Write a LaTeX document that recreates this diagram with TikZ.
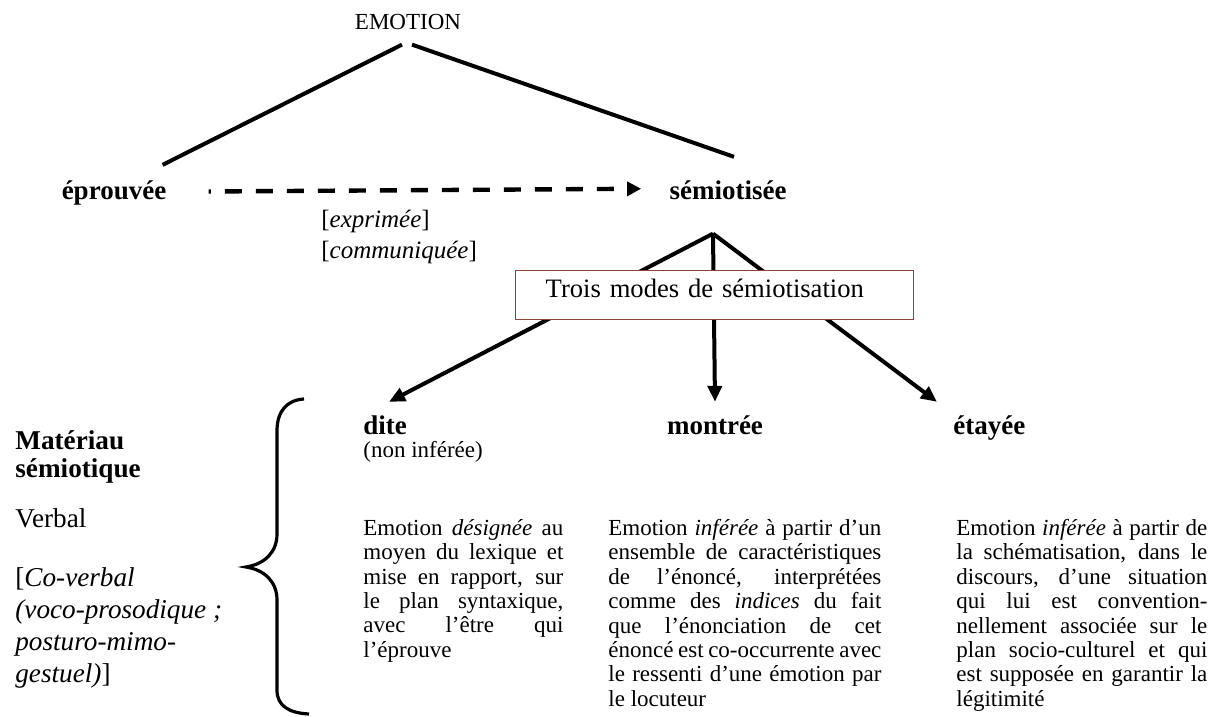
\documentclass[tikz,border=0pt]{standalone}
\usepackage{fontspec}
\setmainfont{Liberation Serif}
\usetikzlibrary{arrows.meta}
\definecolor{boxline}{RGB}{140,70,55}
\tikzset{
    lbl/.style={inner sep=0pt, font=\fontsize{11.5}{12}\selectfont},
    head/.style={inner sep=0pt, font=\fontsize{13.5}{16}\selectfont\bfseries},
    para/.style={inner sep=0pt, anchor=north west, align=justify, font=\fontsize{11.5}{12.2}\selectfont},
    side/.style={inner sep=0pt, anchor=north west, align=left, font=\fontsize{13.6}{16}\selectfont},
    tree/.style={line width=2pt},
    down/.style={line width=2pt, -{Triangle[length=8pt,width=7pt]}},
}
\hyphenpenalty=10000 \exhyphenpenalty=10000 \tolerance=10000 \hbadness=10000

\begin{document}
\begin{tikzpicture}[x=0.5pt, y=-0.5pt]
    \useasboundingbox (0,0) rectangle (1223,717);

    \node[lbl, anchor=base] (emotion) at (408,30) {EMOTION};
    \node[head, anchor=base] (eprouvee) at (114,200) {éprouvée};
    \node[head, anchor=base] (semiotisee) at (728,200) {sémiotisée};

    \draw[tree] ([shift={(-6,14)}]emotion.south) -- ([shift={(-4,-16)}]eprouvee.north east);
    \draw[tree] ([shift={(4,14)}]emotion.south) -- ([shift={(6,-24)}]semiotisee.north);

    \draw[line width=2.2pt, dash pattern=on 8.5pt off 7pt, dash phase=7.4pt, -{Triangle[length=7pt,width=7pt]}]
        ([shift={(42,-2)}]eprouvee.east) -- ([shift={(-28,-2)}]semiotisee.west);
    \node[lbl, anchor=north west, align=left, font=\fontsize{12.5}{15.5}\selectfont] (expr) at (321,210)
        {[\textit{exprimée}]\\{}[\textit{communiquée}]};

    \node[head, anchor=base west] (dite) at (363,435) {dite};
    \node[lbl, anchor=base west] (noninf) at (363,458) {(non inférée)};
    \node[head, anchor=base] (montree) at (715,435) {montrée};
    \node[head, anchor=base west] (etayee) at (953,435) {étayée};

    \coordinate (fork) at ([shift={(-15,33)}]semiotisee.south);
    \draw[down] (fork) -- ([shift={(26,-14)}]dite.north west);
    \draw[down] (fork) -- ([shift={(0,-14)}]montree.north);
    \draw[down] (fork) -- ([shift={(-16,-14)}]etayee.north west);

    \node[draw=boxline, line width=0.7pt, fill=white, anchor=north west, inner xsep=15pt, inner ysep=0pt,
        text width=169pt, text height=13.5pt, text depth=11pt, font=\fontsize{13.3}{16}\selectfont]
        (trois) at (515,270) {Trois modes de sémiotisation};

    \node[para, text width=100pt] (ditetxt) at (363,519)
        {Emotion \textit{désignée} au\linebreak moyen du lexique et\linebreak mise en rapport, sur\linebreak
        le plan syntaxique,\linebreak avec l’être qui\linebreak l’éprouve};
    \node[para, text width=136.5pt] (montreetxt) at (608,519)
        {Emotion \textit{inférée} à partir d’un\linebreak ensemble de caractéristiques\linebreak
        de l’énoncé, interprétées\linebreak comme des \textit{indices} du fait\linebreak
        que l’énonciation de cet\linebreak énoncé est co-occurrente avec\linebreak
        le ressenti d’une émotion par\linebreak le locuteur};
    \node[para, text width=125.5pt] (etayeetxt) at (956,519)
        {Emotion \textit{inférée} à partir de\linebreak la schématisation, dans le\linebreak
        discours, d’une situation\linebreak qui lui est convention-\linebreak
        nellement associée sur le\linebreak plan socio-culturel et qui\linebreak
        est supposée en garantir la\linebreak légitimité};

    \node[side, font=\fontsize{13.6}{14}\selectfont\bfseries] (materiau) at (15,430) {Matériau\\sémiotique};
    \node[side, anchor=base west] (verbal) at (15,527) {Verbal};
    \node[side] (coverbal) at (15,567)
        {[\textit{Co-verbal}\\\textit{(voco-prosodique ;}\\\textit{posturo-mimo-}\\\textit{gestuel)}]};

    \draw[line width=1.6pt] (304,399) .. controls (287,400) and (277,411) .. (277,431) -- (277,534)
        .. controls (277,552) and (265,564) .. (246,567)
        .. controls (265,570) and (277,582) .. (277,600) -- (277,690)
        .. controls (277,706) and (289,713) .. (309,714);
\end{tikzpicture}
\end{document}
